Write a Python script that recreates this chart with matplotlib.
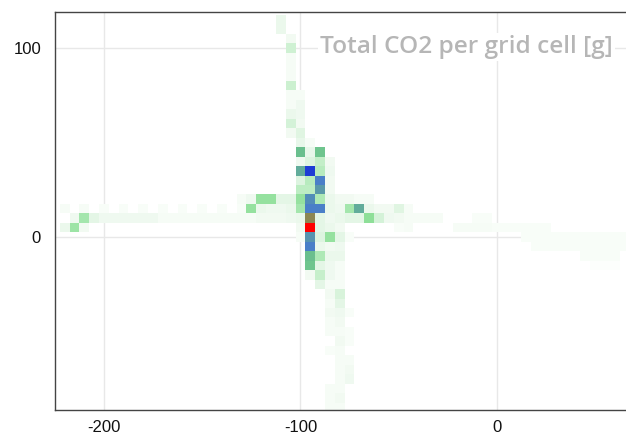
import numpy as np
import matplotlib
matplotlib.use("Agg")
import matplotlib.pyplot as plt
from matplotlib.colors import LinearSegmentedColormap

plt.rcParams["axes.unicode_minus"] = False

# ---------- data: grid-cell centres (lon, lat) and CO2 per cell ----------
cell_lon = [
    # upper arm
    -110, -110, -105, -105, -105, -105, -105, -105, -105, -100, -100, -105, -105, -100,
    -105, -100, -100, -105, -100, -95,
    -100, -95, -90, -100, -95, -90, -85,
    -100, -95, -90, -85, -100, -95, -90, -85, -100, -95, -90, -85,
    # y = 20
    -130, -125, -120, -115, -110, -105, -100, -95, -90, -85, -80, -75, -70, -65,
    # y = 15
    -220, -210, -200, -190, -180, -170, -160, -150, -140, -130, -125, -120, -115, -110,
    -105, -100, -95, -90, -85, -80, -75, -70, -65, -60, -55, -50, -45,
    # y = 10
    -215, -210, -205, -200, -195, -190, -185, -180, -175, -170, -165, -160, -155, -150,
    -145, -140, -135, -130, -125, -120, -115, -110, -105, -100, -95, -90, -85, -80,
    -75, -70, -65, -60, -55, -50, -45, -40, -35, -30, -10, -5,
    # y = 5
    -220, -215, -210, -100, -95, -90, -85, -80, -50, -45, -20, -15, -10, -5, 0,
    5, 10, 15, 20, 25,
    # y = 0 .. -15
    -100, -95, -90, -85, -80, -75, 15, 20, 25, 30, 35, 40, 45, 50, 55, 60, 65,
    -95, -90, -85, -80, 20, 25, 30, 35, 40, 45, 50, 55, 60, 65,
    -95, -90, -85, -80, 45, 50, 55, 60,
    -95, -90, -85, -80, 50, 55, 60,
    # lower arm
    -95, -90, -85, -80, -90, -85, -80, -85, -80, -85, -80,
    -85, -80, -75, -85, -80, -85, -80, -75, -80, -75, -85, -80,
    -80, -75, -80, -75, -80, -75, -85, -80, -85, -80, -85, -80,
]
cell_lat = [
    115, 110, 105, 100, 95, 90, 85, 80, 75, 75, 70, 70, 65, 65,
    60, 60, 55, 55, 50, 50,
    45, 45, 45, 40, 40, 40, 40,
    35, 35, 35, 35, 30, 30, 30, 30, 25, 25, 25, 25,
    20, 20, 20, 20, 20, 20, 20, 20, 20, 20, 20, 20, 20, 20,
    15, 15, 15, 15, 15, 15, 15, 15, 15, 15, 15, 15, 15, 15,
    15, 15, 15, 15, 15, 15, 15, 15, 15, 15, 15, 15, 15,
    10, 10, 10, 10, 10, 10, 10, 10, 10, 10, 10, 10, 10, 10,
    10, 10, 10, 10, 10, 10, 10, 10, 10, 10, 10, 10, 10, 10,
    10, 10, 10, 10, 10, 10, 10, 10, 10, 10, 10, 10,
    5, 5, 5, 5, 5, 5, 5, 5, 5, 5, 5, 5, 5, 5, 5,
    5, 5, 5, 5, 5,
    0, 0, 0, 0, 0, 0, 0, 0, 0, 0, 0, 0, 0, 0, 0, 0, 0,
    -5, -5, -5, -5, -5, -5, -5, -5, -5, -5, -5, -5, -5, -5,
    -10, -10, -10, -10, -10, -10, -10, -10,
    -15, -15, -15, -15, -15, -15, -15,
    -20, -20, -20, -20, -25, -25, -25, -30, -30, -35, -35,
    -40, -40, -40, -45, -45, -50, -50, -50, -55, -55, -60, -60,
    -65, -65, -70, -70, -75, -75, -80, -80, -85, -85, -90, -90,
]
co2_g = [
    6, 6, 4, 13, 3, 3, 3, 14, 3, 3, 5, 3, 6, 5,
    12, 4, 9, 4, 7, 3,
    40, 7, 38, 5, 10, 16, 4,
    45, 75, 18, 5, 10, 18, 60, 4, 17, 17, 50, 4,
    3, 5, 26, 26, 8, 8, 26, 55, 20, 6, 4, 4, 3, 3,
    3, 3, 2, 2, 2, 2, 2, 2, 2, 2, 26, 6, 5, 5,
    6, 22, 60, 60, 6, 5, 22, 45, 6, 4, 4, 9, 3,
    5, 22, 8, 5, 5, 5, 5, 5, 5, 3, 3, 3, 3, 3,
    3, 3, 3, 3, 3, 4, 4, 4, 5, 6, 88, 8, 5, 6,
    8, 8, 28, 12, 5, 4, 3, 3, 3, 3, 2, 2,
    6, 24, 4, 4, 100, 8, 6, 4, 2, 3, 3, 3, 3, 3, 2,
    2, 2, 2, 2, 2,
    3, 52, 10, 26, 8, 2, 2, 2, 2, 2, 2, 2, 2, 2, 2, 2, 2,
    60, 6, 4, 5, 2, 2, 2, 2, 2, 2, 2, 2, 2, 2,
    40, 20, 6, 6, 2, 2, 2, 2,
    38, 8, 5, 3, 1, 1, 1,
    4, 15, 5, 3, 8, 3, 3, 4, 11, 3, 8,
    4, 5, 2, 3, 4, 3, 3, 2, 4, 2, 2, 3,
    3, 3, 3, 4, 3, 5, 3, 3, 3, 4, 3, 3,
]

title = "Total CO2 per grid cell [g]"
x_ticks = [-200, -100, 0]
y_ticks = [0, 100]

# ---------- grid ----------
cell = 5
x_edges = np.arange(-227.5, 72.5 + 1e-9, cell)
y_edges = np.arange(-97.5, 122.5 + 1e-9, cell)
grid = np.full((len(y_edges) - 1, len(x_edges) - 1), np.nan)
for lon, lat, v in zip(cell_lon, cell_lat, co2_g):
    i = int(round((lat - y_edges[0]) / cell - 0.5))
    j = int(round((lon - x_edges[0]) / cell - 0.5))
    grid[i, j] = v

cmap = LinearSegmentedColormap.from_list("co2", [
    (0.00, "#ffffff"),
    (0.02, "#f8fdf8"),
    (0.05, "#eef9ef"),
    (0.10, "#dcf4df"),
    (0.15, "#c6efcb"),
    (0.22, "#a4e6ad"),
    (0.30, "#86dc90"),
    (0.40, "#6abf8e"),
    (0.50, "#5a9aa8"),
    (0.60, "#4a7fc8"),
    (0.75, "#1a3ad8"),
    (0.88, "#8a8a55"),
    (1.00, "#ff0000"),
])

# ---------- plot ----------
fig = plt.figure(figsize=(6.26, 4.36), dpi=100)
ax = fig.add_axes([55 / 626, 26 / 436, 571 / 626, 398 / 436])
ax.pcolormesh(x_edges, y_edges, np.ma.masked_invalid(grid), cmap=cmap,
              vmin=0, vmax=100, shading="flat", zorder=1)

ax.set_xlim(-224.9, 65.7)
ax.set_ylim(-91.4, 118.9)
ax.set_xticks(x_ticks)
ax.set_yticks(y_ticks)
ax.grid(True, color="#e8e8e8", linewidth=1.0, zorder=0)
ax.set_axisbelow(True)
ax.tick_params(length=0, labelsize=12, pad=7, labelcolor="#111111")
for lab in ax.get_xticklabels() + ax.get_yticklabels():
    lab.set_family("Liberation Sans")
ax.tick_params(axis="y", pad=10)
for s in ("left", "top", "bottom"):
    ax.spines[s].set_color("#444444")
    ax.spines[s].set_linewidth(1.0)
ax.spines["right"].set_visible(False)

ax.text(0.977, 0.912, title, transform=ax.transAxes, ha="right", va="center",
        fontsize=17.6, fontweight="semibold", family="Open Sans", color="#b6b6b6",
        bbox=dict(facecolor="white", edgecolor="none", pad=1.5), zorder=5)

fig.savefig("out.png", dpi=100)
